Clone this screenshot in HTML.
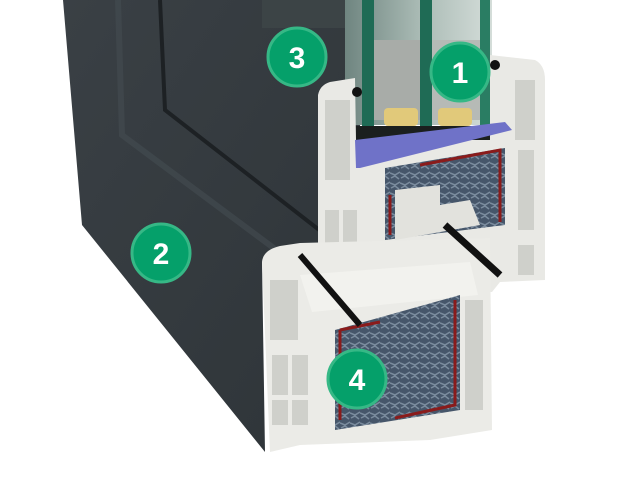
<!DOCTYPE html>
<html><head><meta charset="utf-8"><style>
html,body{margin:0;padding:0;background:#fff;width:640px;height:480px;overflow:hidden}
svg{display:block}
</style></head><body>
<svg width="640" height="480" viewBox="0 0 640 480" xmlns="http://www.w3.org/2000/svg">
<defs>
<linearGradient id="dk" x1="0" y1="0" x2="1" y2="1">
<stop offset="0" stop-color="#3a4045"/><stop offset="1" stop-color="#2e3438"/></linearGradient>
<linearGradient id="gl" x1="0" y1="0" x2="1" y2="0">
<stop offset="0" stop-color="#6f8580"/><stop offset="0.5" stop-color="#a9bab4"/><stop offset="1" stop-color="#d4ddd9"/></linearGradient>
<pattern id="st" width="10" height="10" patternUnits="userSpaceOnUse">
<rect width="10" height="10" fill="#46566a"/><path d="M0 3l5 2 5-3M1 8l4-2 4 3" stroke="#7b8c9e" stroke-width="1.5" fill="none"/></pattern>
</defs>
<!-- dark frame body -->
<polygon points="63,0 360,0 360,250 300,250 262,262 265,452 82,225" fill="url(#dk)"/>
<polyline points="160,0 165,110 345,250" stroke="#1d2124" stroke-width="4" fill="none"/>
<polyline points="118,0 122,135 330,290" stroke="#454c52" stroke-width="6" fill="none" opacity="0.6"/>
<rect x="262" y="0" width="85" height="28" fill="#3c4446"/>
<!-- glass area -->
<rect x="345" y="0" width="147" height="125" fill="url(#gl)"/>
<rect x="362" y="0" width="12" height="140" fill="#1f6b55"/>
<rect x="420" y="0" width="12" height="140" fill="#1f6b55"/>
<rect x="480" y="0" width="10" height="135" fill="#2a7d63"/>
<rect x="374" y="40" width="46" height="80" fill="#a8aca8"/>
<rect x="432" y="40" width="48" height="80" fill="#b6bab6"/>
<rect x="384" y="108" width="34" height="18" rx="4" fill="#e1c97a"/>
<rect x="438" y="108" width="34" height="18" rx="4" fill="#e1c97a"/>
<rect x="355" y="126" width="135" height="14" fill="#1b1f1e"/>
<!-- upper white profile -->
<path d="M318,95 Q320,85 330,82 L355,78 L356,140 L490,140 L490,55 L535,60 Q545,65 545,80 L545,280 L500,282 L492,292 L318,290 Z" fill="#e9e9e5"/>
<path d="M355,140 L505,122 L512,130 L360,168 L356,168 Z" fill="#6f72c8"/>
<g fill="#cfd0cb">
<rect x="325" y="100" width="25" height="80"/><rect x="325" y="210" width="14" height="38"/><rect x="343" y="210" width="14" height="38"/>
<rect x="515" y="80" width="20" height="60"/><rect x="518" y="150" width="16" height="80"/><rect x="518" y="245" width="16" height="30"/>
</g>
<!-- upper steel core -->
<path d="M385,168 L505,148 L505,225 L385,240 Z" fill="url(#st)"/>
<path d="M390,195 L390,235 M420,165 L500,150 L500,222" stroke="#8a1b1b" stroke-width="3" fill="none"/>
<path d="M395,190 L440,185 L440,205 L470,200 L480,225 L395,240 Z" fill="#e2e2dd"/>
<!-- lower white profile -->
<path d="M262,262 Q263,250 280,246 L300,243 L490,238 L492,430 L430,440 L300,445 L270,452 Z" fill="#ebebe7"/>
<g fill="#cfd0cb">
<rect x="270" y="280" width="28" height="60"/><rect x="272" y="355" width="16" height="40"/><rect x="292" y="355" width="16" height="40"/>
<rect x="272" y="400" width="16" height="25"/><rect x="292" y="400" width="16" height="25"/>
<rect x="465" y="300" width="18" height="110"/>
</g>
<path d="M300,275 L470,262 L478,295 L312,312 Z" fill="#f2f2ee"/>
<!-- lower steel core -->
<path d="M335,330 L460,295 L460,410 L335,430 Z" fill="url(#st)"/>
<path d="M340,330 L380,322 M340,330 L340,420 M455,300 L455,405 L395,418" stroke="#8a1b1b" stroke-width="3" fill="none"/>
<!-- gaskets -->
<line x1="300" y1="255" x2="360" y2="325" stroke="#111" stroke-width="6"/>
<line x1="445" y1="225" x2="500" y2="275" stroke="#111" stroke-width="7"/>
<circle cx="495" cy="65" r="5" fill="#111"/><circle cx="357" cy="92" r="5" fill="#111"/>
<!-- badges -->
<g font-family="Liberation Sans, sans-serif" font-weight="bold" font-size="30" fill="#fff" text-anchor="middle">
<circle cx="297" cy="57" r="29" fill="#05a06a" stroke="#36b886" stroke-width="3"/><text x="297" y="68">3</text>
<circle cx="460" cy="72" r="29" fill="#05a06a" stroke="#36b886" stroke-width="3"/><text x="460" y="83">1</text>
<circle cx="161" cy="253" r="29" fill="#05a06a" stroke="#36b886" stroke-width="3"/><text x="161" y="264">2</text>
<circle cx="357" cy="379" r="29" fill="#05a06a" stroke="#36b886" stroke-width="3"/><text x="357" y="390">4</text>
</g>
</svg>
</body></html>
